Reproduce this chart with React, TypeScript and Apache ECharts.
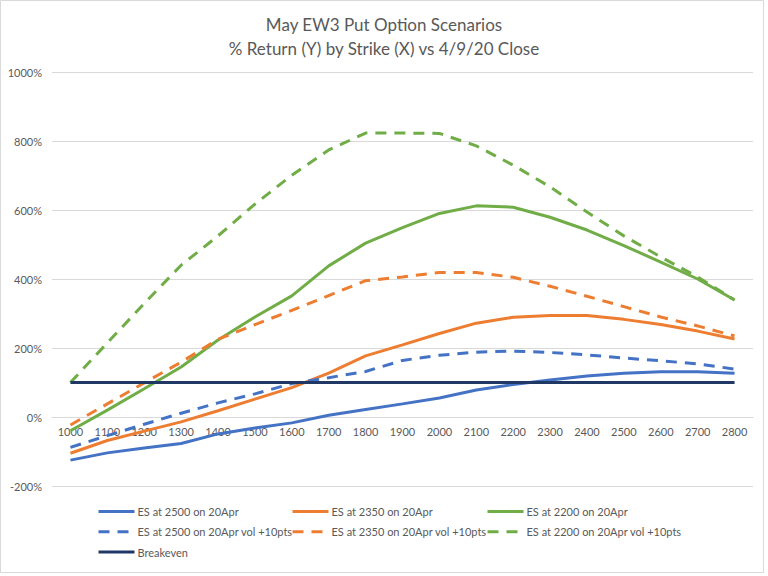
import React, { useEffect, useRef } from "react";
import * as echarts from "echarts";

const strikes = ["1000","1100","1200","1300","1400","1500","1600","1700","1800","1900","2000","2100","2200","2300","2400","2500","2600","2700","2800"];

const es2500 = [-125, -104, -90, -77, -49, -32, -17, 5, 22, 38, 55, 78, 94, 107, 119, 127, 131, 131, 127];
const es2350 = [-105, -68, -41, -14, 18, 52, 85, 127, 177, 209, 242, 272, 289, 294, 294, 283, 268, 249, 226];
const es2200 = [-40, 20, 82, 145, 223, 290, 351, 438, 504, 549, 590, 612, 608, 579, 542, 497, 449, 400, 339];
const es2500vol = [-88, -54, -21, 11, 41, 67, 97, 114, 132, 164, 179, 188, 191, 187, 180, 171, 163, 154, 139];
const es2350vol = [-23, 38, 99, 159, 225, 268, 309, 352, 395, 406, 419, 419, 405, 379, 350, 320, 290, 264, 235];
const es2200vol = [100, 215, 329, 440, 525, 617, 701, 774, 823, 823, 822, 786, 730, 667, 594, 525, 464, 406, 339];
const breakeven = strikes.map(() => 100);

const yTicks = { min: -200, max: 1000, interval: 200 };

const FONT = "Lato, 'Open Sans', sans-serif";
const TXT = "#595959";

export default function App() {
  const ref = useRef<HTMLDivElement>(null);
  useEffect(() => {
    document.body.style.margin = "0";
    const chart = echarts.init(ref.current!, null, { renderer: "svg" });
    const dash = [11, 8];
    const mk = (name: string, data: number[], color: string, dashed: boolean) => ({
      name,
      type: "line",
      data,
      symbol: "none",
      showSymbol: false,
      lineStyle: { color, width: 3, type: dashed ? dash : "solid", cap: "butt" },
      itemStyle: { color },
      emphasis: { disabled: true },
    });
    const legendBase = {
      orient: "vertical",
      top: 506,
      itemWidth: 36,
      itemHeight: 14,
      itemGap: 9,
      itemStyle: { opacity: 0 },
      lineStyle: { width: 3 },
      textStyle: { color: TXT, fontSize: 11, fontFamily: FONT, padding: [0, 0, 0, -2] },
      selectedMode: false,
      padding: 0,
    };
    const gridTop = 72;
    const gridBottom = 90;
    const gridH = 576 - gridTop - gridBottom;
    const zeroOffset = -gridH * ((0 - yTicks.min) / (yTicks.max - yTicks.min));
    chart.setOption({
      animation: false,
      backgroundColor: "#ffffff",
      textStyle: { fontFamily: FONT },
      title: {
        text: "May EW3 Put Option Scenarios\n% Return (Y) by Strike (X) vs 4/9/20 Close",
        left: "center",
        top: 7,
        textStyle: { color: TXT, fontSize: 17, fontWeight: "normal", fontFamily: FONT, lineHeight: 24 },
      },
      legend: [
        { ...legendBase, left: 97, data: ["ES at 2500 on 20Apr", "ES at 2500 on 20Apr vol +10pts", "Breakeven"] },
        { ...legendBase, left: 291, data: ["ES at 2350 on 20Apr", "ES at 2350 on 20Apr vol +10pts"] },
        { ...legendBase, left: 486, data: ["ES at 2200 on 20Apr", "ES at 2200 on 20Apr vol +10pts"] },
      ],
      grid: { left: 52, right: 15, top: gridTop, bottom: gridBottom, containLabel: false },
      xAxis: {
        type: "category",
        data: strikes,
        boundaryGap: true,
        offset: zeroOffset,
        axisLine: { show: true, onZero: false, lineStyle: { color: "#d9d9d9", width: 1 } },
        axisTick: { show: false },
        axisLabel: { color: TXT, fontSize: 11, fontFamily: FONT, margin: 9, interval: 0 },
        splitLine: { show: false },
      },
      yAxis: {
        type: "value",
        min: yTicks.min,
        max: yTicks.max,
        interval: yTicks.interval,
        axisLine: { show: false },
        axisTick: { show: false },
        axisLabel: { color: TXT, fontSize: 11, fontFamily: FONT, margin: 10, formatter: (v: number) => `${v}%` },
        splitLine: { lineStyle: { color: "#d9d9d9", width: 1 } },
      },
      graphic: [
        {
          type: "rect",
          shape: { x: 0.5, y: 0.5, width: 763, height: 572 },
          style: { fill: "none", stroke: "#d9d9d9", lineWidth: 1 },
          silent: true,
          z: 100,
        },
      ],
      series: [
        mk("ES at 2500 on 20Apr", es2500, "#4472C4", false),
        mk("ES at 2350 on 20Apr", es2350, "#ED7D31", false),
        mk("ES at 2200 on 20Apr", es2200, "#70AD47", false),
        mk("ES at 2500 on 20Apr vol +10pts", es2500vol, "#4472C4", true),
        mk("ES at 2350 on 20Apr vol +10pts", es2350vol, "#ED7D31", true),
        mk("ES at 2200 on 20Apr vol +10pts", es2200vol, "#70AD47", true),
        mk("Breakeven", breakeven, "#1F3864", false),
      ],
    });
    return () => chart.dispose();
  }, []);
  return <div ref={ref} style={{ width: 768, height: 576 }} />;
}
